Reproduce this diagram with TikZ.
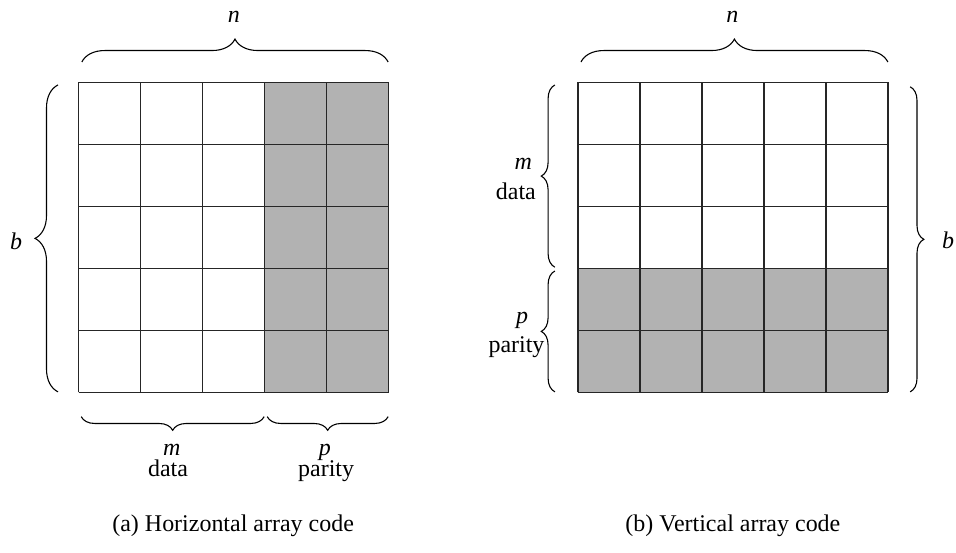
\documentclass[tikz,border=0pt]{standalone}
\usepackage{fontspec}
\setmainfont{Liberation Serif}
\newfontfamily\timesfont{Liberation Serif}
\usetikzlibrary{decorations.pathreplacing}

\tikzset{
	cell/.style={draw=black!85, line width=0.6pt},
	parfill/.style={fill=gray!60},
	bigbrace/.style={decorate, decoration={brace, amplitude=0.37cm}, line width=0.5pt},
	smallbrace/.style={decorate, decoration={brace, amplitude=0.22cm}, line width=0.5pt},
	lbl/.style={font=\timesfont\fontsize{11}{13}\selectfont, inner sep=0pt},
}

\begin{document}
\begin{tikzpicture}
		\useasboundingbox (0,0) rectangle (15.419,-8.903);
		\def\xa{1.27}
		\def\xb{9.32}
		\def\yb{-6.33}
		% horizontal array code
		\fill[parfill] (\xa+3, \yb) rectangle (\xa+5, \yb+5);
		\draw[cell, shift={(\xa, \yb)}] (0, 0) grid (5, 5);
		\coordinate (ntl) at (1.32, -1.0);
		\coordinate (ntr) at (6.26, -1.0);
		\coordinate (bbl) at (0.935, -6.32);
		\coordinate (btl) at (0.935, -1.37);
		\coordinate (mbl) at (1.31, -6.72);
		\coordinate (mbr) at (4.26, -6.72);
		\coordinate (pbl) at (4.31, -6.72);
		\coordinate (pbr) at (6.26, -6.72);
		\draw[bigbrace] (ntl) -- (ntr);
		\draw[bigbrace] (bbl) -- (btl);
		\draw[smallbrace] (mbr) -- (mbl);
		\draw[smallbrace] (pbr) -- (pbl);
		\node[lbl] (na) at (3.77, -0.27) {\textit{n}};
		\node[lbl] (ba) at (0.26, -3.89) {\textit{b}};
		\node[lbl, anchor=base] (ma) at (2.77, -7.35) {\textit{m}};
		\node[lbl, anchor=base] (da) at (2.71, -7.69) {data};
		\node[lbl, anchor=base] (pa) at (5.24, -7.35) {\textit{p}};
		\node[lbl, anchor=base] (qa) at (5.26, -7.69) {parity};
		\node[lbl, anchor=base] (capa) at (3.76, -8.58) {(a) Horizontal array code};
		% vertical array code
		\fill[parfill] (\xb, \yb) rectangle (\xb+5, \yb+2);
		\draw[cell, shift={(\xb, \yb)}] (0, 0) grid (5, 5);
		\coordinate (ntl2) at (9.37, -1.0);
		\coordinate (ntr2) at (14.32, -1.0);
		\coordinate (bt2) at (14.68, -1.40);
		\coordinate (bb2) at (14.68, -6.32);
		\coordinate (mt2) at (8.95, -1.37);
		\coordinate (mb2) at (8.95, -4.31);
		\coordinate (pt2) at (8.95, -4.37);
		\coordinate (pb2) at (8.95, -6.32);
		\draw[bigbrace] (ntl2) -- (ntr2);
		\draw[smallbrace] (bt2) -- (bb2);
		\draw[smallbrace] (mb2) -- (mt2);
		\draw[smallbrace] (pb2) -- (pt2);
		\node[lbl] (nb) at (11.81, -0.27) {\textit{n}};
		\node[lbl] (bb) at (15.29, -3.87) {\textit{b}};
		\node[lbl, anchor=base] (mb) at (8.44, -2.73) {\textit{m}};
		\node[lbl, anchor=base] (db) at (8.32, -3.21) {data};
		\node[lbl, anchor=base] (pb) at (8.42, -5.21) {\textit{p}};
		\node[lbl, anchor=base] (qb) at (8.33, -5.68) {parity};
		\node[lbl, anchor=base] (capb) at (11.82, -8.58) {(b) Vertical array code};
	\end{tikzpicture}
\end{document}
